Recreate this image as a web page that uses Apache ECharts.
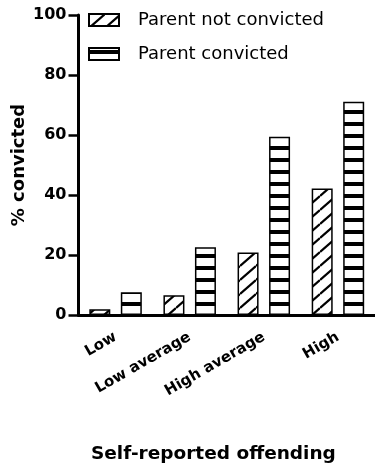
<!DOCTYPE html>
<html><head><meta charset="utf-8">
<script src="https://cdn.jsdelivr.net/npm/echarts@6/dist/echarts.min.js"></script>
<style>html,body{margin:0;padding:0;background:#fff}#c{width:375px;height:471px}</style>
</head><body><div id="c"></div>
<script>
const categories = ['Low', 'Low average', 'High average', 'High'];
const seriesNames = ['Parent not convicted', 'Parent convicted'];
const parentNotConvicted = [1.9, 6.6, 20.8, 42.2];
const parentConvicted = [7.6, 22.6, 59.4, 71.1];
const yTicks = [0, 20, 40, 60, 80, 100];
const xTitle = 'Self-reported offending';
const yTitle = '% convicted';

function hatchTile() {
  const W = 16, H = 14;
  const c = document.createElement('canvas');
  c.width = W; c.height = H;
  const g = c.getContext('2d');
  g.fillStyle = '#fff'; g.fillRect(0, 0, W, H);
  g.strokeStyle = '#000'; g.lineWidth = 2.2;
  for (let k = -1; k <= 1; k++) {
    g.beginPath();
    g.moveTo(0, H + k * H);
    g.lineTo(W, 0 + k * H);
    g.stroke();
  }
  return c;
}
function stripeTile() {
  const c = document.createElement('canvas');
  c.width = 12; c.height = 12;
  const g = c.getContext('2d');
  g.fillStyle = '#fff'; g.fillRect(0, 0, 12, 12);
  g.fillStyle = '#000'; g.fillRect(0, 2, 12, 4);
  return c;
}

const font = 'DejaVu Sans';
const chart = echarts.init(document.getElementById('c'), null, {renderer: 'canvas'});
chart.setOption({
  animation: false,
  backgroundColor: '#fff',
  grid: {left: 78.5, right: 0, top: 15, bottom: 156, containLabel: false, outerBoundsMode: 'none'},
  legend: {
    orient: 'vertical', left: 88, top: 11, padding: 0,
    itemWidth: 30, itemHeight: 12, itemGap: 16,
    icon: 'rect',
    textStyle: {fontFamily: font, fontSize: 18, color: '#000', padding: [0, 0, 0, 14]},
    data: seriesNames
  },
  xAxis: {
    type: 'category',
    data: categories,
    axisLine: {lineStyle: {color: '#000', width: 3}},
    axisTick: {alignWithLabel: true, length: 12, lineStyle: {color: '#000', width: 3}},
    axisLabel: {rotate: 30, margin: 21, fontFamily: font, fontWeight: 'bold', fontSize: 15, color: '#000'},
    splitLine: {show: false}
  },
  yAxis: {
    type: 'value', min: yTicks[0], max: yTicks[yTicks.length - 1], interval: 20,
    name: yTitle, nameLocation: 'middle', nameRotate: 90, nameGap: 50, nameMoveOverlap: false,
    nameTextStyle: {fontFamily: font, fontWeight: 'bold', fontSize: 18, color: '#000'},
    axisLine: {show: true, lineStyle: {color: '#000', width: 3}},
    axisTick: {show: true, length: 10, lineStyle: {color: '#000', width: 2.5}},
    axisLabel: {margin: 12, fontFamily: font, fontWeight: 'bold', fontSize: 16, color: '#000'},
    splitLine: {show: false}
  },
  graphic: [{
    type: 'text', left: 91, top: 445,
    style: {text: xTitle, fontFamily: font, fontWeight: 'bold', fontSize: 18.5, fill: '#000'}
  }],
  series: [
    {
      name: seriesNames[0], type: 'bar', data: parentNotConvicted,
      barWidth: 21, barGap: '50%',
      itemStyle: {color: {image: hatchTile(), repeat: 'repeat'}, borderColor: '#000', borderWidth: 1.5}
    },
    {
      name: seriesNames[1], type: 'bar', data: parentConvicted,
      barWidth: 21,
      itemStyle: {color: {image: stripeTile(), repeat: 'repeat'}, borderColor: '#000', borderWidth: 1.5}
    }
  ]
});
</script></body></html>
